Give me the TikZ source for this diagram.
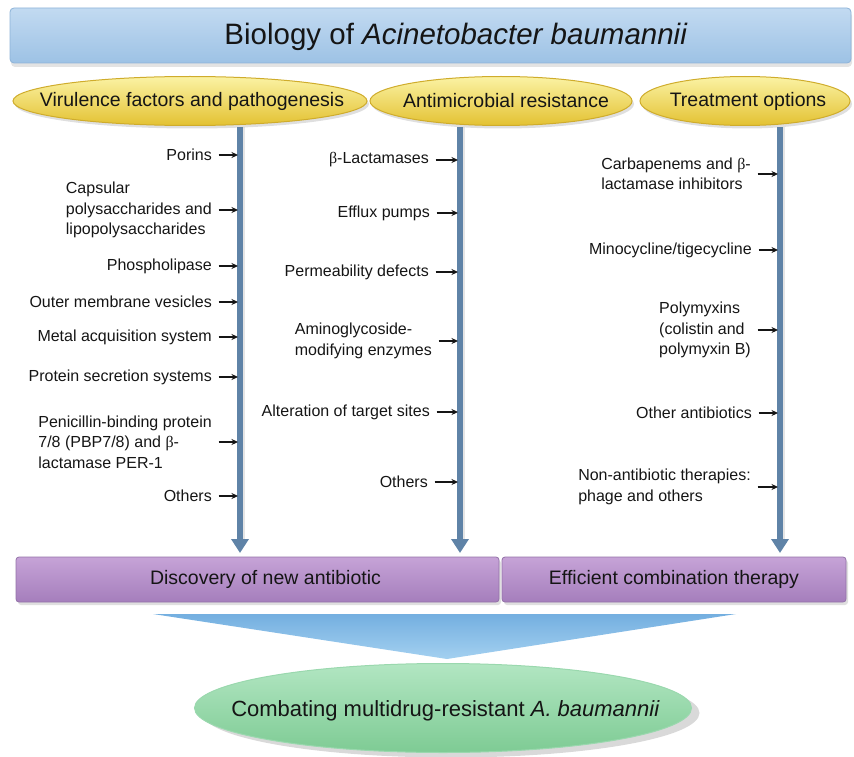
\documentclass[tikz,border=0pt]{standalone}
\usepackage{fontspec}
\setmainfont{Liberation Sans}
\newfontfamily\greekfont{Liberation Serif}
\usetikzlibrary{shapes.geometric,arrows.meta,shadows,calc}
\definecolor{txt}{HTML}{151515}
\definecolor{titleTop}{HTML}{C2DAF1}
\definecolor{titleBot}{HTML}{9DC2E5}
\definecolor{titleEdge}{HTML}{8DB3D8}
\definecolor{yelTop}{HTML}{FBF2A4}
\definecolor{yelMid}{HTML}{F5E04C}
\definecolor{yelBot}{HTML}{E3C232}
\definecolor{yelEdge}{HTML}{CFAC2C}
\definecolor{purTop}{HTML}{C6A3D7}
\definecolor{purBot}{HTML}{A57EBC}
\definecolor{purEdge}{HTML}{9372A8}
\definecolor{triTop}{HTML}{74AFE0}
\definecolor{triBot}{HTML}{A3D0F0}
\definecolor{grnTop}{HTML}{B2E6C2}
\definecolor{grnBot}{HTML}{7ECB94}
\definecolor{grnEdge}{HTML}{9AD8AE}
\definecolor{steel}{HTML}{5F83A7}
\newcommand{\bet}{{\greekfont β}}
\tikzset{
  bodytext/.style={font=\fontsize{16}{20.5}\selectfont, align=left, inner sep=0pt, anchor=east, text=txt},
  smallarrow/.style={-{Stealth[length=6.5pt,width=6pt]}, line width=1.4pt, draw=txt, shorten <=6.5pt, shorten >=2pt},
  bigarrow/.style={-{Triangle[length=14pt,width=17pt]}, line width=6pt, draw=steel},
  bigshadow/.style={line width=3pt, draw=black, opacity=0.1},
  header/.style={ellipse, draw=yelEdge, line width=1pt, top color=yelTop, middle color=yelMid, bottom color=yelBot,
    minimum height=49pt, inner sep=0pt,
    drop shadow={shadow xshift=2pt, shadow yshift=-3pt, opacity=0.25}},
  headtext/.style={inner sep=0pt, text=txt, font=\fontsize{19.5}{23}\selectfont},
  purbar/.style={rectangle, rounded corners=3pt, draw=purEdge, line width=0.8pt, top color=purTop, bottom color=purBot,
    minimum height=45pt, inner sep=0pt, text=txt, font=\fontsize{19.5}{23}\selectfont,
    drop shadow={shadow xshift=2pt, shadow yshift=-3pt, opacity=0.25}},
  titlebar/.style={rectangle, rounded corners=4pt, draw=titleEdge, line width=0.8pt, top color=titleTop, bottom color=titleBot,
    inner sep=0pt, drop shadow={shadow xshift=1pt, shadow yshift=-4pt, opacity=0.22}},
  titletext/.style={inner sep=0pt, text=txt, font=\fontsize{29.5}{34}\selectfont},
  goal/.style={ellipse, draw=grnEdge, line width=1pt, top color=grnTop, bottom color=grnBot,
    minimum width=497pt, minimum height=89pt, inner sep=0pt,
    drop shadow={shadow xshift=8pt, shadow yshift=-5pt, opacity=0.3}},
  goaltext/.style={inner sep=0pt, text=txt, font=\fontsize{22}{26}\selectfont},
}
\begin{document}
\begin{tikzpicture}[x=1pt,y=-1pt]
\useasboundingbox (0,0) rectangle (854,757);
% title
\node[titlebar, minimum width=841pt, minimum height=55pt] (bar) at (430.5,35.5) {};
\node[titletext] (title) at (456,37) {Biology of \textit{Acinetobacter baumannii}};
% headers
\node[header, minimum width=354pt] (h1) at (190,101) {};
\node[header, minimum width=262pt] (h2) at (501,101) {};
\node[header, minimum width=210pt] (h3) at (745,101) {};
\node[headtext] (h1t) at (192,101) {Virulence factors and pathogenesis};
\node[headtext] (h2t) at (506,101) {Antimicrobial resistance};
\node[headtext] (h3t) at (748,101) {Treatment options};
% vertical arrows
\coordinate (vLt) at (240,127); \coordinate (vLb) at (240,553);
\coordinate (vMt) at (460,127); \coordinate (vMb) at (460,553);
\coordinate (vRt) at (780,127); \coordinate (vRb) at (780,553);
\draw[bigshadow] ([xshift=3.5pt]vLt) -- ([xshift=3.5pt,yshift=14pt]vLb);
\draw[bigshadow] ([xshift=3.5pt]vMt) -- ([xshift=3.5pt,yshift=14pt]vMb);
\draw[bigshadow] ([xshift=3.5pt]vRt) -- ([xshift=3.5pt,yshift=14pt]vRb);
\draw[bigarrow] (vLt) -- (vLb);
\draw[bigarrow] (vMt) -- (vMb);
\draw[bigarrow] (vRt) -- (vRb);
% left column
\node[bodytext] (l1) at (212,155) {Porins};
\node[bodytext] (l2) at (212,210) {Capsular\\polysaccharides and\\lipopolysaccharides};
\node[bodytext] (l3) at (212,266) {Phospholipase};
\node[bodytext] (l4) at (212,302) {Outer membrane vesicles};
\node[bodytext] (l5) at (212,337) {Metal acquisition system};
\node[bodytext] (l6) at (212,377) {Protein secretion systems};
\node[bodytext] (l7) at (212,442) {Penicillin-binding protein\\7/8 (PBP7/8) and \bet-\\lactamase PER-1};
\node[bodytext] (l8) at (212,496) {Others};
\foreach \n in {l1,l2,l3,l4,l5,l6,l7,l8} \draw[smallarrow] (\n.east) -- (\n.east -| vLt);
% middle column
\node[bodytext] (m1) at (429,160) {\bet-Lactamases};
\node[bodytext] (m2) at (430,213) {Efflux pumps};
\node[bodytext] (m3) at (429,272) {Permeability defects};
\node[bodytext] (m4) at (432,341) {Aminoglycoside-\\modifying enzymes};
\node[bodytext] (m5) at (430,412) {Alteration of target sites};
\node[bodytext] (m6) at (428,482) {Others};
\foreach \n in {m1,m2,m3,m4,m5,m6} \draw[smallarrow] (\n.east) -- (\n.east -| vMt);
% right column
\node[bodytext] (r1) at (751,174) {Carbapenems and \bet-\\lactamase inhibitors};
\node[bodytext] (r2) at (752,250) {Minocycline/tigecycline};
\node[bodytext] (r3) at (751,330) {Polymyxins\\(colistin and\\polymyxin B)};
\node[bodytext] (r4) at (752,413) {Other antibiotics};
\node[bodytext] (r5) at (751,487) {Non-antibiotic therapies:\\phage and others};
\foreach \n in {r1,r2,r3,r4,r5} \draw[smallarrow] (\n.east) -- (\n.east -| vRt);
% purple bars
\node[purbar, minimum width=483pt] (p1) at (257.5,579.5) {\hspace{16pt}Discovery of new antibiotic};
\node[purbar, minimum width=344pt] (p2) at (674,579.5) {Efficient combination therapy};
% funnel triangle
\coordinate (tA) at (153,614); \coordinate (tB) at (736,614); \coordinate (tC) at (447,659);
\path[top color=triTop, bottom color=triBot] (tA) -- (tB) -- (tC) -- cycle;
% goal
\node[goal] (g) at (443,708) {};
\node[goaltext] (gt) at (445.5,711) {Combating multidrug-resistant \textit{A. baumannii}};
\end{tikzpicture}
\end{document}
